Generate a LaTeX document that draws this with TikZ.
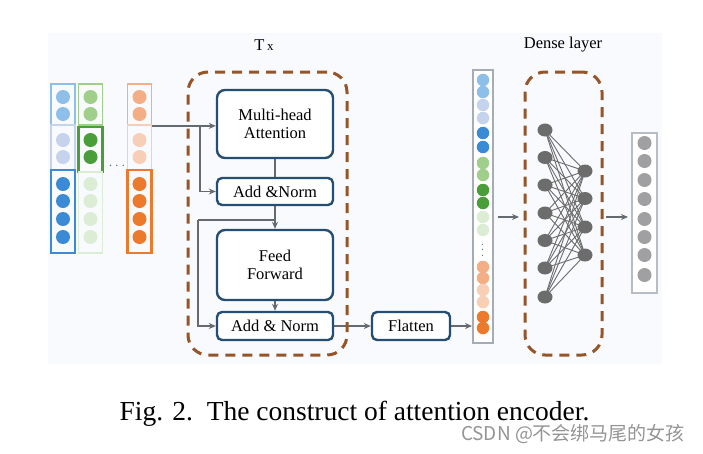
\documentclass[tikz,border=0pt]{standalone}
\usepackage{fontspec}
\setmainfont{Liberation Serif}
\newfontfamily\cjkfont{Noto Sans CJK SC}
\usetikzlibrary{arrows.meta,backgrounds,shapes.geometric}
\definecolor{bgc}{RGB}{249,250,253}
\definecolor{boxc}{RGB}{38,78,112}
\definecolor{brownc}{RGB}{150,85,40}
\definecolor{connc}{RGB}{100,106,112}
\definecolor{colc}{RGB}{165,172,182}
\definecolor{nodec}{RGB}{108,108,108}
\definecolor{outc}{RGB}{160,160,162}
\definecolor{blueL}{RGB}{141,191,233}
\definecolor{blueP}{RGB}{197,212,236}
\definecolor{blueD}{RGB}{59,138,213}
\definecolor{greenL}{RGB}{159,207,138}
\definecolor{greenD}{RGB}{74,158,58}
\definecolor{greenP}{RGB}{220,237,213}
\definecolor{orangeL}{RGB}{243,174,134}
\definecolor{orangeP}{RGB}{248,207,182}
\definecolor{orangeD}{RGB}{236,122,44}
\begin{document}
\begin{tikzpicture}[x=1pt,y=-1pt,
  blk/.style={draw=boxc,line width=2.4pt,fill=white,rounded corners=5pt,minimum width=116pt,inner sep=0pt,align=center,font=\fontsize{16.5}{17.5}\selectfont},
  dashbox/.style={draw=brownc,line width=3pt,dash pattern=on 10pt off 7pt,rounded corners=20pt,inner sep=0pt},
  conn/.style={draw=connc,line width=1.6pt},
  arr/.style={-{Stealth[length=7pt,width=6pt]}},
  seg/.style={line width=1.8pt,inner sep=0pt,minimum width=24pt},
  dot/.style={circle,inner sep=0pt,minimum size=14pt},
  fdot/.style={circle,inner sep=0pt,minimum size=12.5pt},
  nn/.style={ellipse,fill=nodec,inner sep=0pt,minimum width=15pt,minimum height=13pt},
  lbl/.style={font=\fontsize{16.5}{17}\selectfont}]
\useasboundingbox (0,0) rectangle (703,453);

% ---------- input columns ----------
\node[seg,draw=blueL,minimum height=41pt] (b1) at (63,104.5) {};
\node[seg,draw=blueP,minimum height=45pt] (b2) at (63,147.5) {};
\node[seg,draw=blueD,line width=2.4pt,minimum height=83pt] (b3) at (63,211.5) {};
\node[seg,draw=greenL,minimum height=41pt] (g1) at (90.5,104.5) {};
\node[seg,draw=greenD,line width=2.6pt,minimum height=45pt] (g2) at (90.5,149.5) {};
\node[seg,draw=greenP,minimum height=81pt] (g3) at (90.5,212.5) {};
\node[seg,draw=orangeL,minimum height=41pt] (o1) at (139.5,104.5) {};
\node[seg,draw=orangeP,minimum height=45pt] (o2) at (139.5,147.5) {};
\node[seg,draw=orangeD,line width=2.4pt,minimum height=83pt] (o3) at (139.5,211.5) {};
\foreach \x/\n/\ca/\cb/\cc in {63/b/blueL/blueP/blueD,90.5/g/greenL/greenD/greenP,139.5/o/orangeL/orangeP/orangeD}{
  \node[dot,fill=\ca] (\n c1) at (\x,97) {};
  \node[dot,fill=\ca] (\n c2) at (\x,114) {};
  \node[dot,fill=\cb] (\n c3) at (\x,140) {};
  \node[dot,fill=\cb] (\n c4) at (\x,157) {};
  \node[dot,fill=\cc] (\n c5) at (\x,184) {};
  \node[dot,fill=\cc] (\n c6) at (\x,201) {};
  \node[dot,fill=\cc] (\n c7) at (\x,219) {};
  \node[dot,fill=\cc] (\n c8) at (\x,237) {};
}
\node[text=boxc!80,font=\fontsize{15}{15}\selectfont\bfseries] (idots) at (117,166) {$\cdots$};

% ---------- encoder ----------
\node[lbl] (tx) at (264,45) {T\,{\fontsize{13}{13}\selectfont x}};
\node[dashbox,minimum width=159pt,minimum height=283pt] (encbox) at (267.5,213.5) {};
\node[blk,rounded corners=8pt,minimum height=68pt] (mha) at (275,124) {Multi-head\\Attention};
\node[blk,minimum height=27pt] (an1) at (275,191.5) {Add \&Norm};
\node[blk,rounded corners=8pt,minimum height=70pt] (ff) at (275,265) {Feed\\Forward};
\node[blk,minimum height=28pt] (an2) at (275,326) {Add \& Norm};
\node[blk,minimum width=78pt,minimum height=28pt] (flat) at (411,326) {Flatten};

% ---------- flattened column ----------
\node[draw=colc,line width=2pt,fill=white,minimum width=20pt,minimum height=273pt,inner sep=0pt] (fcol) at (483,206.5) {};
\foreach \y/\c [count=\i] in {80/blueL,92/blueL,105/blueP,118/blueP,133/blueD,147/blueD,163/greenL,175/greenL,190/greenD,203/greenD,217/greenP,230/greenP,267/orangeL,278/orangeL,290/orangeP,302/orangeP,317/orangeD,328/orangeD}{
  \node[fdot,fill=\c] (f\i) at (483,\y) {};
}
\node[rotate=90,text=boxc!85,font=\fontsize{13}{13}\selectfont] (fdots) at (483,250) {$\cdots$};

% ---------- dense layer ----------
\node[lbl] (dlab) at (563,45) {Dense layer};
\node[dashbox,minimum width=77pt,minimum height=283pt] (dense) at (563.5,213.5) {};
\foreach \y [count=\i] in {130,157.5,185,213,240.5,268,297}{
  \node[nn] (L\i) at (545,\y) {};
}
\foreach \y [count=\i] in {171,198.5,227,255}{
  \node[nn] (R\i) at (585,\y) {};
}

% ---------- output column ----------
\node[draw=colc!80,line width=2pt,fill=white,minimum width=25pt,minimum height=160pt,inner sep=0pt] (ocol) at (644.5,213) {};
\foreach \y [count=\i] in {143,161,180,199,219,237,255,275}{
  \node[dot,fill=outc] (p\i) at (644.5,\y) {};
}

% ---------- caption ----------
\node[font=\fontsize{27.5}{28}\selectfont] (cap) at (354.5,414) {Fig. 2.\enspace The construct of attention encoder.};
\node[font=\cjkfont\fontsize{19}{19}\selectfont,text=black!42] (wm) at (573,434) {CSDN @不会绑马尾的女孩};

% ---------- connectors ----------
\begin{scope}[on background layer]
  \fill[bgc] (48,33) rectangle (662,364);
  \coordinate (br1) at (200,125);
  \coordinate (br2) at (275,220);
  \coordinate (br2l) at (198,220);
  \draw[conn,arr] (o1.south east) -- (o1.south east -| mha.west);
  \draw[conn,arr] (br1) |- (an1.west);
  \draw[conn] (mha.south) -- (an1.north);
  \draw[conn,arr] (an1.south) -- (ff.north);
  \draw[conn] (br2) -- (br2l);
  \draw[conn,arr] (br2l) |- (an2.west);
  \draw[conn,arr] (ff.south) -- (an2.north);
  \draw[conn,arr] (an2.east) -- (flat.west);
  \draw[conn,arr] (flat.east) -- (flat.east -| fcol.west);
  \coordinate (a1s) at (498,217);
  \coordinate (a1e) at (519,217);
  \coordinate (a2s) at (606,217);
  \coordinate (a2e) at (628,217);
  \draw[conn,arr] (a1s) -- (a1e);
  \draw[conn,arr] (a2s) -- (a2e);
  \foreach \i in {1,...,7}{
    \foreach \j in {1,...,4}{
      \draw[draw=nodec,line width=0.9pt] (L\i.center) -- (R\j.center);
    }
  }
\end{scope}
\end{tikzpicture}
\end{document}
